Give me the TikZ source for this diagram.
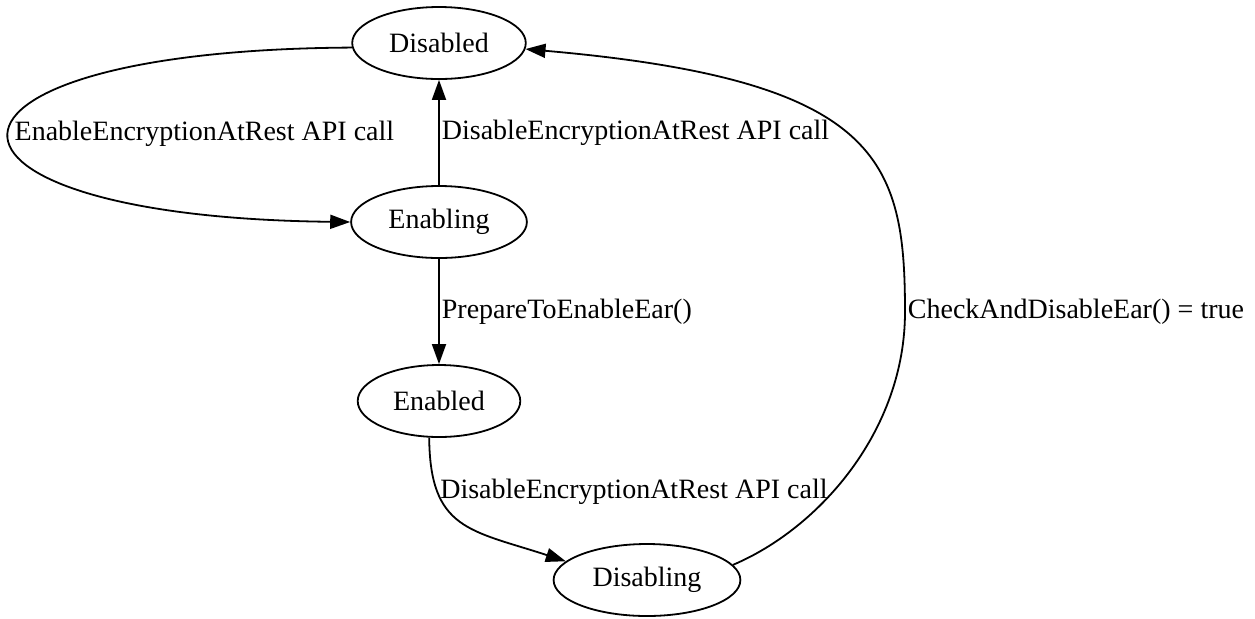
\documentclass[tikz,border=0pt]{standalone}
\usepackage{fontspec}
\setmainfont{Liberation Serif}
\usepackage{tikz}
\usetikzlibrary{positioning,arrows.meta,shapes.geometric}

\begin{document}
\begin{tikzpicture}[
          x=0.5pt, y=-0.5pt,
          every node/.style={font=\fontsize{14pt}{16pt}\selectfont},
          state/.style={draw, ellipse, line width=0.9pt,
          inner xsep=5.8pt, inner ysep=2pt, minimum height=36pt},
          arr/.style={-{Triangle[length=10pt,width=7pt]}, line width=0.9pt},
          lbl/.style={inner sep=1pt},
        ]
          \useasboundingbox (0,0) rectangle (1255,618);

          % ── States ───────────────────────────────────────────
          \node[state] (Disabled)  at (439,43)  {Disabled};
          \node[state] (Enabling)  at (439,222) {Enabling};
          \node[state] (Enabled)   at (439,401) {Enabled};
          \node[state] (Disabling) at (647,580) {Disabling};

          % ── Transitions ──────────────────────────────────────
          \draw[arr] (Disabled.183) .. controls (-104,50) and (-104,217) .. (Enabling.west)
            node[pos=0.5,right,lbl,xshift=1pt] {EnableEncryptionAtRest API call};
          \draw[arr] (Enabling) -- (Disabled)
            node[midway,right,lbl] {DisableEncryptionAtRest API call};
          \draw[arr] (Enabling) -- (Enabled)
            node[midway,right,lbl] {PrepareToEnableEar()};
          \draw[arr] (Enabled.255) .. controls (430,530) and (470,530) .. (Disabling.167)
            node[pos=0.25,right,lbl] {DisableEncryptionAtRest API call};
          \draw[arr] (Disabling.10) .. controls (820,528) and (905,430) .. (905,312)
            node[right,lbl] {CheckAndDisableEar() = true}
            .. controls (905,160) and (880,80) .. (Disabled.-4);

        \end{tikzpicture}
\end{document}
